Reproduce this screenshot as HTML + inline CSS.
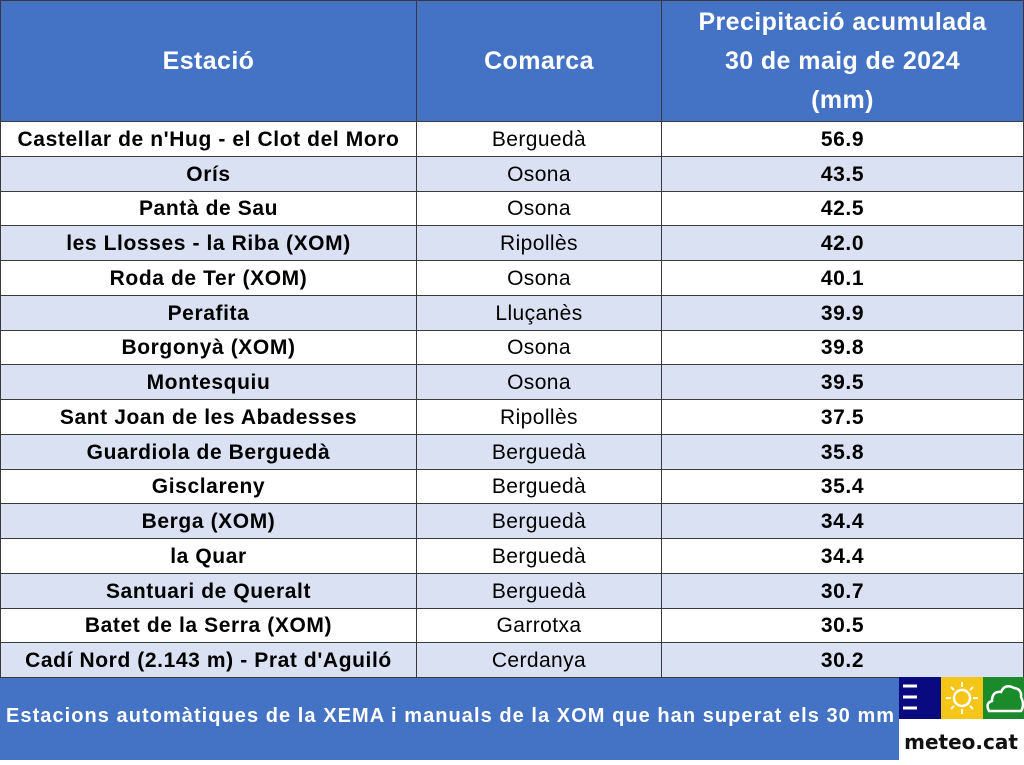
<!DOCTYPE html>
<html><head><meta charset="utf-8"><style>
body{margin:0;width:1024px;height:760px;background:#fff;font-family:"Liberation Sans",sans-serif;position:relative;overflow:hidden}
table{border-collapse:collapse;position:absolute;left:0;top:0;width:1024px;table-layout:fixed}
td,th{border:1px solid #3a3a3a;text-align:center;padding:0;white-space:nowrap;overflow:hidden}
th{background:#4472C4;color:#fff;font-size:25px;height:120px;font-weight:bold;line-height:39px;letter-spacing:0.4px}
td{height:34.75px;font-size:21px;color:#000;padding-top:2px;box-sizing:border-box}
td.n{font-weight:bold;letter-spacing:0.6px}
td.c{letter-spacing:0.4px}
tr:nth-child(odd) td{background:#D9E1F2}
.f{position:absolute;left:0;top:678px;width:1024px;height:82px;background:#4472C4}
.ft{position:absolute;left:6px;top:705px;color:#fff;font-weight:bold;font-size:20px;letter-spacing:1.05px;white-space:nowrap}
.logo{position:absolute;left:899px;top:677px;width:125px;height:83px;background:#fff}
</style></head><body>
<table>
<tr><th style="width:415px">Estació</th><th style="width:244px">Comarca</th><th>Precipitació acumulada<br>30 de maig de 2024<br>(mm)</th></tr>
<tr><td class="n">Castellar de n'Hug - el Clot del Moro</td><td class="c">Berguedà</td><td class="n">56.9</td></tr>
<tr><td class="n">Orís</td><td class="c">Osona</td><td class="n">43.5</td></tr>
<tr><td class="n">Pantà de Sau</td><td class="c">Osona</td><td class="n">42.5</td></tr>
<tr><td class="n">les Llosses - la Riba (XOM)</td><td class="c">Ripollès</td><td class="n">42.0</td></tr>
<tr><td class="n">Roda de Ter (XOM)</td><td class="c">Osona</td><td class="n">40.1</td></tr>
<tr><td class="n">Perafita</td><td class="c">Lluçanès</td><td class="n">39.9</td></tr>
<tr><td class="n">Borgonyà (XOM)</td><td class="c">Osona</td><td class="n">39.8</td></tr>
<tr><td class="n">Montesquiu</td><td class="c">Osona</td><td class="n">39.5</td></tr>
<tr><td class="n">Sant Joan de les Abadesses</td><td class="c">Ripollès</td><td class="n">37.5</td></tr>
<tr><td class="n">Guardiola de Berguedà</td><td class="c">Berguedà</td><td class="n">35.8</td></tr>
<tr><td class="n">Gisclareny</td><td class="c">Berguedà</td><td class="n">35.4</td></tr>
<tr><td class="n">Berga (XOM)</td><td class="c">Berguedà</td><td class="n">34.4</td></tr>
<tr><td class="n">la Quar</td><td class="c">Berguedà</td><td class="n">34.4</td></tr>
<tr><td class="n">Santuari de Queralt</td><td class="c">Berguedà</td><td class="n">30.7</td></tr>
<tr><td class="n">Batet de la Serra (XOM)</td><td class="c">Garrotxa</td><td class="n">30.5</td></tr>
<tr><td class="n">Cadí Nord (2.143 m) - Prat d'Aguiló</td><td class="c">Cerdanya</td><td class="n">30.2</td></tr>
</table>
<div class="f"></div>
<div class="ft">Estacions automàtiques de la XEMA i manuals de la XOM que han superat els 30 mm</div>
<div class="logo">
<svg width="125" height="83" viewBox="0 0 125 83">
<rect x="0" y="0" width="42" height="42" fill="#0a0a80"/>
<rect x="42" y="0" width="42" height="42" fill="#F5C518"/>
<rect x="84" y="0" width="41" height="42" fill="#1a8a2a"/>
<g stroke="#fff" stroke-width="3"><line x1="4" y1="9" x2="18" y2="9"/><line x1="4" y1="20" x2="18" y2="20"/><line x1="4" y1="31" x2="18" y2="31"/></g>
<circle cx="63" cy="21" r="8" fill="none" stroke="#fff" stroke-width="2.5"/>
<g stroke="#fff" stroke-width="2"><line x1="63" y1="5" x2="63" y2="10"/><line x1="63" y1="32" x2="63" y2="37"/><line x1="47" y1="21" x2="52" y2="21"/><line x1="74" y1="21" x2="79" y2="21"/><line x1="52" y1="10" x2="55" y2="13"/><line x1="71" y1="29" x2="74" y2="32"/><line x1="52" y1="32" x2="55" y2="29"/><line x1="71" y1="13" x2="74" y2="10"/></g>
<path d="M90 34 Q86 26 93 24 Q93 14 102 15 Q106 6 115 11 Q123 12 122 20 Q126 28 122 34 Z" fill="none" stroke="#fff" stroke-width="2.5"/>
<text x="62" y="72" text-anchor="middle" font-family="DejaVu Sans,sans-serif" font-size="20" font-weight="bold" fill="#111">meteo.cat</text>
</svg>
</div>
</body></html>
